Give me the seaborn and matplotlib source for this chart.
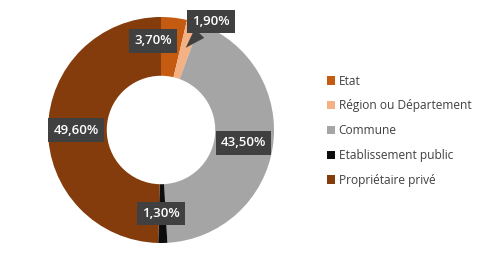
import matplotlib
matplotlib.use("Agg")
import matplotlib.pyplot as plt
import seaborn as sns
import numpy as np

categories = ["Etat", "Région ou Département", "Commune", "Etablissement public", "Propriétaire privé"]
values = [3.70, 1.90, 43.50, 1.30, 49.60]
labels = ["3,70%", "1,90%", "43,50%", "1,30%", "49,60%"]
colors = ["#C55A11", "#F4B183", "#A5A5A5", "#0D0D0D", "#843C0C"]

sns.set_theme(style="white")
plt.rcParams['font.family'] = ['Open Sans', 'DejaVu Sans']

W, H = 480, 262
fig = plt.figure(figsize=(W / 100, H / 100), dpi=100)
cx, cy, r = 161, 130, 113
ax = fig.add_axes([(cx - r) / W, (H - cy - r) / H, 2 * r / W, 2 * r / H])

wedges, _ = ax.pie(values, colors=colors, startangle=90, counterclock=False,
                   radius=1.0, wedgeprops=dict(width=0.52, edgecolor="none"))
ax.set_xlim(-1, 1)
ax.set_ylim(-1, 1)
ax.set_aspect("equal")
ax.axis("off")

box = dict(boxstyle="square,pad=0.4", fc="#404040", ec="none")
tkw = dict(color="white", fontsize=9.5, fontweight="semibold", ha="center", va="center")
# label positions (layout)
pos = [(-0.07, 0.79), (0.44, 0.96), (0.73, -0.115), (0.0, -0.74), (-0.75, 0.0)]
for i, (lab, p) in enumerate(zip(labels, pos)):
    if i == 1:
        start = 90 - 360 * sum(values[:i]) / 100
        mid = np.deg2rad(start - 360 * values[i] / 200)
        tip = (0.76 * np.cos(mid), 0.76 * np.sin(mid))
        ax.annotate(lab, xy=tip, xytext=p, textcoords="data", bbox=box,
                    arrowprops=dict(arrowstyle="wedge,tail_width=1.0,shrink_factor=0.5",
                                    fc="#404040", ec="none", shrinkA=0, shrinkB=0),
                    **tkw)
    else:
        ax.text(p[0], p[1], lab, bbox=box, **tkw)

leg = fig.legend(wedges, categories, loc="upper left", bbox_to_anchor=(322 / W, 1 - 70 / H),
                 frameon=False, fontsize=8.6, handlelength=0.7, handleheight=0.7,
                 handletextpad=0.3, labelspacing=0.98, borderaxespad=0)
for t in leg.get_texts():
    t.set_color("#404040")

fig.savefig("out.png", dpi=100)
